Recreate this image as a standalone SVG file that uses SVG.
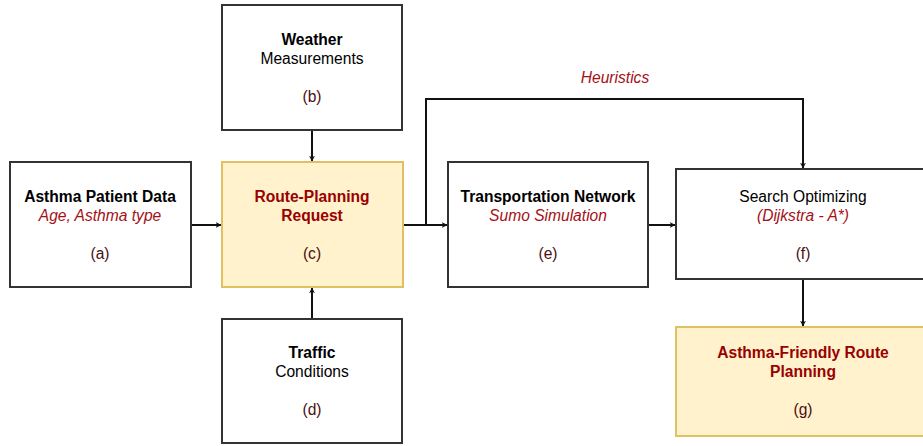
<svg xmlns="http://www.w3.org/2000/svg" width="923" height="446" viewBox="0 0 923 446">
<style>
.box{fill:#ffffff;stroke:#333333;stroke-width:2}
.hl{fill:#fff2cc;stroke:#e0c060;stroke-width:2}
text{font-family:"Liberation Sans",Arial,sans-serif;font-size:15.6px;text-anchor:middle}
.b{font-weight:bold;fill:#000}
.n{fill:#000}
.r{font-style:italic;fill:#a50f15}
.rb{font-weight:bold;fill:#990000}
.l{fill:#4a0f0f}
.edge{fill:none;stroke:#111;stroke-width:2}
</style>
<defs>
<marker id="ah" viewBox="0 0 10 10" refX="9" refY="5" markerWidth="6" markerHeight="6" markerUnits="userSpaceOnUse" orient="auto">
<path d="M0,0 L10,5 L0,10 L3,5 Z" fill="#111"/>
</marker>
</defs>
<g id="connectors">
<path class="edge" d="M191,225 L221,225" marker-end="url(#ah)"/>
<path class="edge" d="M312,130 L312,161" marker-end="url(#ah)"/>
<path class="edge" d="M312,319 L312,288" marker-end="url(#ah)"/>
<path class="edge" d="M403,225 L447,225" marker-end="url(#ah)"/>
<path class="edge" d="M426,225 L426,99 L803,99 L803,168" marker-end="url(#ah)"/>
<path class="edge" d="M648,225 L675,225" marker-end="url(#ah)"/>
<path class="edge" d="M803,279 L803,326" marker-end="url(#ah)"/>
<text class="r" x="615" y="83">Heuristics</text>
</g>
<g id="node-a">
<rect class="box" x="10" y="162" width="181" height="125"/>
<text class="b" x="100" y="202">Asthma Patient Data</text>
<text class="r" x="100" y="221">Age, Asthma type</text>
<text class="l" x="100" y="259">(a)</text>
</g>
<g id="node-b">
<rect class="box" x="222" y="5" width="180" height="125"/>
<text class="b" x="312" y="45">Weather</text>
<text class="n" x="312" y="64">Measurements</text>
<text class="l" x="312" y="102">(b)</text>
</g>
<g id="node-c">
<rect class="hl" x="222" y="162" width="181" height="125"/>
<text class="rb" x="312" y="202">Route-Planning</text>
<text class="rb" x="312" y="221">Request</text>
<text class="l" x="312" y="259">(c)</text>
</g>
<g id="node-d">
<rect class="box" x="222" y="319" width="180" height="124"/>
<text class="b" x="312" y="358">Traffic</text>
<text class="n" x="312" y="377">Conditions</text>
<text class="l" x="312" y="415">(d)</text>
</g>
<g id="node-e">
<rect class="box" x="448" y="162" width="200" height="125"/>
<text class="b" x="548" y="202">Transportation Network</text>
<text class="r" x="548" y="221">Sumo Simulation</text>
<text class="l" x="548" y="259">(e)</text>
</g>
<g id="node-f">
<rect class="box" x="676" y="169" width="254" height="110"/>
<text class="n" x="803" y="202">Search Optimizing</text>
<text class="r" x="803" y="221">(Dijkstra - A*)</text>
<text class="l" x="803" y="259">(f)</text>
</g>
<g id="node-g">
<rect class="hl" x="676" y="327" width="254" height="109"/>
<text class="rb" x="803" y="358">Asthma-Friendly Route</text>
<text class="rb" x="803" y="377">Planning</text>
<text class="l" x="803" y="415">(g)</text>
</g>
</svg>
